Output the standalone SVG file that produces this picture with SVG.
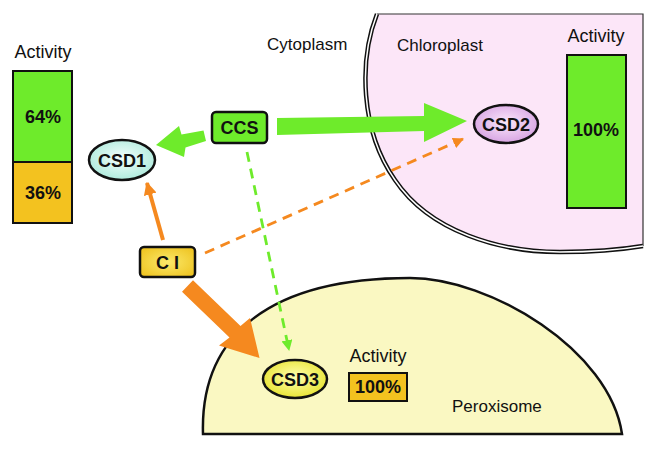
<svg xmlns="http://www.w3.org/2000/svg" width="655" height="449" viewBox="0 0 655 449">
<defs>
<style>
text{font-family:"Liberation Sans",Arial,sans-serif;fill:#111;}
.lbl{font-size:17px;}
.act{font-size:18px;}
.b{font-weight:bold;font-size:18px;text-anchor:middle;}
.bar{stroke:#111;stroke-width:2;}
.node{stroke:#111;stroke-width:2.5;}
.thick-g{fill:#6EEB2B;}
.thick-o{fill:#F5891F;}
</style>
<radialGradient id="gC1" cx="50%" cy="45%" r="60%"><stop offset="0" stop-color="#f4fffc"/><stop offset="1" stop-color="#a9e9da"/></radialGradient>
<radialGradient id="gC2" cx="50%" cy="45%" r="60%"><stop offset="0" stop-color="#fbe8fb"/><stop offset="1" stop-color="#d49ee0"/></radialGradient>
<radialGradient id="gC3" cx="50%" cy="45%" r="60%"><stop offset="0" stop-color="#ffffb0"/><stop offset="1" stop-color="#e6e22a"/></radialGradient>
<radialGradient id="gCI" cx="50%" cy="50%" r="65%"><stop offset="0" stop-color="#fbe96a"/><stop offset="1" stop-color="#eec21e"/></radialGradient>
<marker id="ao" viewBox="0 0 10 10" refX="9" refY="5" markerWidth="11" markerHeight="11" markerUnits="userSpaceOnUse" orient="auto"><path d="M0,0L10,5L0,10Z" fill="#F5891F"/></marker>
<marker id="ao2" viewBox="0 0 10 10" refX="9" refY="5" markerWidth="13" markerHeight="13" markerUnits="userSpaceOnUse" orient="auto"><path d="M0,0L10,5L0,10Z" fill="#F5891F"/></marker>
<marker id="ag" viewBox="0 0 10 10" refX="9" refY="5" markerWidth="11" markerHeight="11" markerUnits="userSpaceOnUse" orient="auto"><path d="M0,0L10,5L0,10Z" fill="#6EEB2B"/></marker>
</defs>
<rect width="655" height="449" fill="#fff"/>

<!-- Chloroplast -->
<g id="chloroplast">
<path d="M377,14 C359,60 360,130 395,180 C430,232 500,252 560,252 C600,252 625,249 643,246 L643,14 Z" fill="#FCE6F8"/>
<path d="M377,14 L643,14 L643,246" fill="none" stroke="#333" stroke-width="1.2"/>
<path d="M377,14 C359,60 360,130 395,180 C430,232 500,252 560,252 C600,252 625,249 643,246" fill="none" stroke="#111" stroke-width="4.5"/>
<path d="M377,14 C359,60 360,130 395,180 C430,232 500,252 560,252 C600,252 625,249 643,246" fill="none" stroke="#fff" stroke-width="1.5"/>
<text class="lbl" x="397" y="51">Chloroplast</text>
</g>

<!-- Peroxisome -->
<g id="peroxisome">
<path d="M203,434 C200,335 270,278 410,278 C490,278 610,350 622,434 Z" fill="#FAF8C2" stroke="#111" stroke-width="2.5"/>
<text class="lbl" x="452" y="412">Peroxisome</text>
</g>

<text id="cytoplasm" class="lbl" x="267" y="50">Cytoplasm</text>

<!-- Left activity bar -->
<g id="activity-left">
<text class="act" x="43" y="58" text-anchor="middle">Activity</text>
<rect class="bar" x="13" y="71" width="59" height="91" fill="#6EEB2B"/>
<rect class="bar" x="13" y="162" width="59" height="61" fill="#F3C21F"/>
<text class="b" x="43" y="123">64%</text>
<text class="b" x="43" y="199">36%</text>
</g>

<!-- Right activity bar -->
<g id="activity-chloroplast">
<text class="act" x="596" y="42" text-anchor="middle">Activity</text>
<rect class="bar" x="567" y="55" width="59" height="153" fill="#6EEB2B"/>
<text class="b" x="596" y="136">100%</text>
</g>

<!-- Peroxisome activity -->
<g id="activity-peroxisome">
<text class="act" x="378" y="362" text-anchor="middle">Activity</text>
<rect class="bar" x="349" y="373" width="58" height="28" fill="#F3C21F"/>
<text class="b" x="378" y="393">100%</text>
</g>

<!-- Connectors -->
<g id="connectors">
<line x1="205" y1="253" x2="463" y2="139" stroke="#F5891F" stroke-width="2.8" stroke-dasharray="10,7" marker-end="url(#ao)"/>
<line x1="247" y1="152" x2="289" y2="350" stroke="#6EEB2B" stroke-width="2.8" stroke-dasharray="10,7" marker-end="url(#ag)"/>
<line x1="163" y1="240" x2="147" y2="183" stroke="#F5891F" stroke-width="4" marker-end="url(#ao2)"/>
<polygon class="thick-g" points="203.5,130.5 206,141 185.5,147.5 184,157 156,145 179,126 181.5,134.5"/>
<polygon class="thick-g" points="277,118 424,116 424,103 467,121 424,142 424,131 277,135"/>
<polygon class="thick-o" points="193,280.2 240.5,325.9 250,318 259.5,358 219,345.5 229.5,337.5 182,291.8"/>
</g>

<!-- Nodes -->
<g id="CCS">
<rect class="node" x="212" y="112" width="55" height="31" rx="4" fill="#6EEB2B"/>
<text class="b" x="239.5" y="134">CCS</text>
</g>
<g id="CI">
<rect class="node" x="140" y="247" width="55" height="30" rx="4" fill="url(#gCI)"/>
<text class="b" x="167.5" y="269">C I</text>
</g>
<g id="CSD1">
<ellipse class="node" cx="122" cy="160" rx="33" ry="20" fill="url(#gC1)"/>
<text class="b" x="122" y="167">CSD1</text>
</g>
<g id="CSD2">
<ellipse class="node" cx="506" cy="124" rx="32" ry="19" fill="url(#gC2)"/>
<text class="b" x="506" y="131">CSD2</text>
</g>
<g id="CSD3">
<ellipse class="node" cx="295" cy="379" rx="32" ry="19" fill="url(#gC3)"/>
<text class="b" x="295" y="386">CSD3</text>
</g>
</svg>
